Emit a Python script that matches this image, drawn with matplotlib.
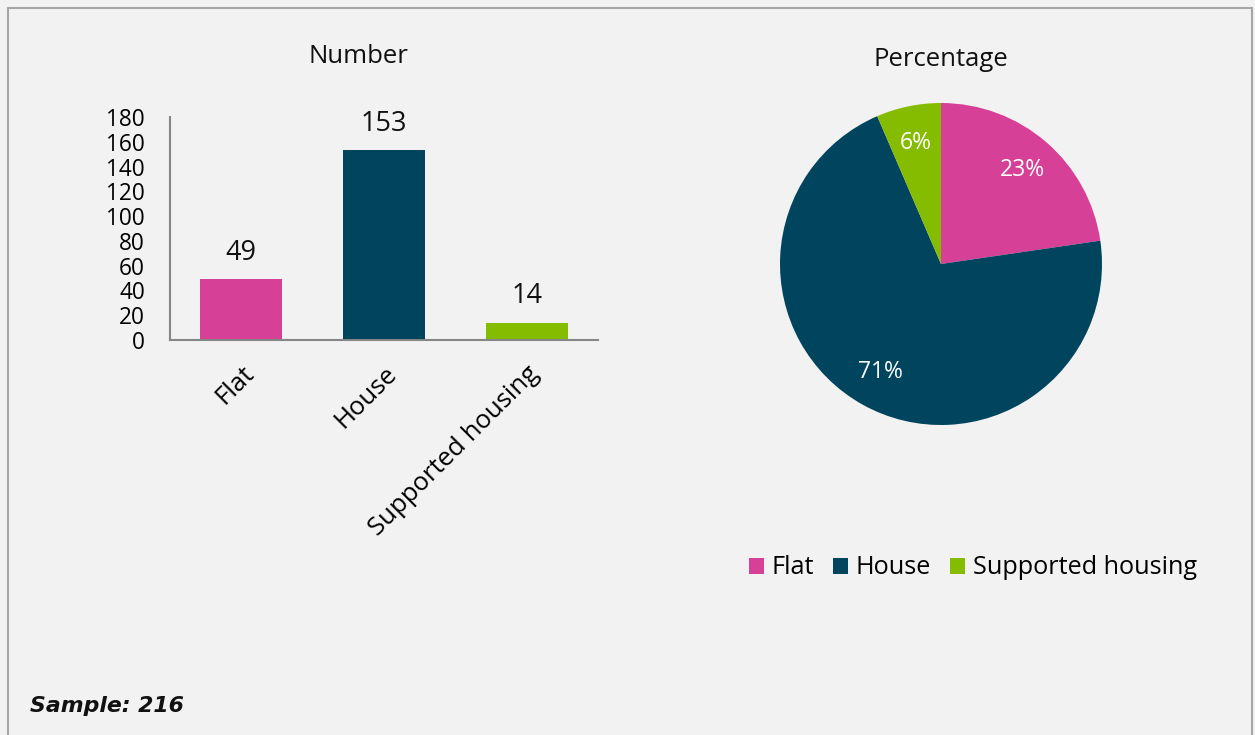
import matplotlib
matplotlib.use("Agg")
import matplotlib.pyplot as plt
from matplotlib.patches import Rectangle, Patch

categories = ["Flat", "House", "Supported housing"]
counts = [49, 153, 14]
pct_labels = ["23%", "71%", "6%"]
yticks = [0, 20, 40, 60, 80, 100, 120, 140, 160, 180]
colors = ["#D64096", "#00445E", "#86BC00"]
sample_text = "Sample: 216"

FONT = "Open Sans"
W, H = 1255, 735
fig = plt.figure(figsize=(W / 100, H / 100), dpi=100, facecolor="#F2F2F2")

# outer border
fig.patches.append(Rectangle((8 / W, -0.01), (1252 - 8) / W, 1 - 8 / H + 0.01,
                             transform=fig.transFigure, fill=False,
                             edgecolor="#A6A6A6", linewidth=1.5))

# Bar chart
ax = fig.add_axes([170 / W, 1 - 340 / H, (598 - 170) / W, (340 - 117) / H])
ax.set_facecolor("none")
x = range(len(categories))
ax.bar(x, counts, width=0.575, color=colors)
ax.set_xlim(-0.5, 2.5)
ax.set_ylim(0, 180)
ax.set_yticks(yticks)
ax.set_yticklabels([str(v) for v in yticks], fontsize=16.3, family=FONT)
ax.tick_params(axis="y", length=0, pad=18)
ax.set_xticks(list(x))
ax.set_xticklabels(categories, rotation=45, ha="right", va="top",
                   rotation_mode="anchor", fontsize=18.5, family=FONT)
ax.tick_params(axis="x", length=0, pad=15)
for s in ["top", "right"]:
    ax.spines[s].set_visible(False)
for s in ["left", "bottom"]:
    ax.spines[s].set_color("#868686")
    ax.spines[s].set_linewidth(1.5)
for i, v in enumerate(counts):
    ax.annotate(str(v), xy=(i, v), xytext=(0, 14), textcoords="offset points",
                ha="center", va="baseline", fontsize=19.5, family=FONT,
                color="#111111")
fig.text(358 / W, 1 - 63 / H, "Number", ha="center", va="baseline",
         fontsize=18.5, family=FONT, color="#111111")

# Pie chart
R = 161
pax = fig.add_axes([(941 - R) / W, 1 - (264 + R) / H, 2 * R / W, 2 * R / H])
wedges, texts, autotexts = pax.pie(counts, colors=colors, startangle=90,
                                   counterclock=False, autopct="%1.0f%%",
                                   pctdistance=0.77,
                                   textprops=dict(color="white", fontsize=16.5,
                                                  family=FONT))
for t, lbl in zip(autotexts, pct_labels):
    t.set_text(lbl)
pax.set_xlim(-1, 1)
pax.set_ylim(-1, 1)
pax.set_aspect("equal")
fig.text(941 / W, 1 - 66 / H, "Percentage", ha="center", va="baseline",
         fontsize=18.5, family=FONT, color="#111111")

handles = [Patch(facecolor=c, edgecolor="none") for c in colors]
fig.legend(handles, categories, loc="center", bbox_to_anchor=(973 / W, 1 - 568 / H),
           ncol=3, frameon=False, handlelength=0.6, handleheight=0.6,
           handletextpad=0.3, columnspacing=0.75,
           prop=dict(family=FONT, size=18.2))

fig.text(30 / W, 1 - 706 / H, sample_text, ha="left", va="center",
         fontsize=15.8, family="DejaVu Sans", style="italic", weight="bold",
         color="#111111")

fig.savefig("out.png", dpi=100, facecolor=fig.get_facecolor())
